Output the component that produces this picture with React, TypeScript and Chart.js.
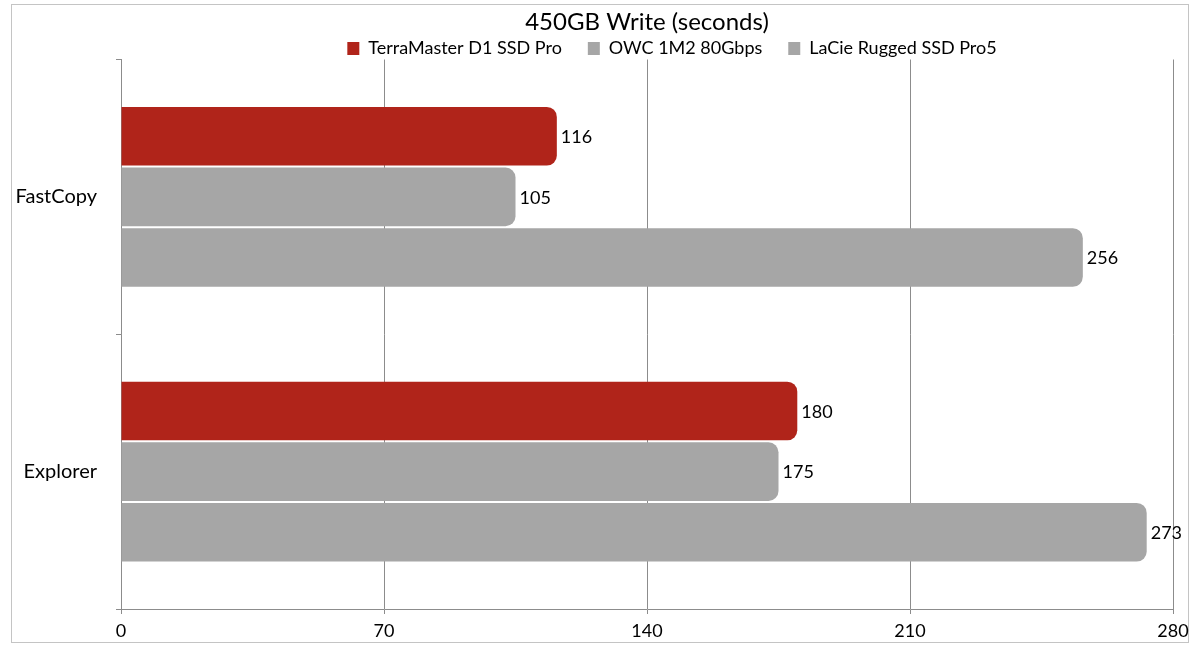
import React, { useEffect, useRef } from "react";
import { Chart, registerables } from "chart.js";

Chart.register(...registerables);

const categories = ["FastCopy", "Explorer"];
const seriesNames = ["TerraMaster D1 SSD Pro", "OWC 1M2 80Gbps", "LaCie Rugged SSD Pro5"];
const terraMaster = [116, 180];
const owc = [105, 175];
const lacie = [256, 273];
const seriesColors = ["#B0241A", "#A6A6A6", "#A6A6A6"];
const titleText = "450GB Write (seconds)";
const xMin = 0;
const xMax = 280;
const xStep = 70;

const FONT = "Lato, 'Open Sans', sans-serif";

const framePlugin = {
  id: "frame",
  beforeDraw(chart: any) {
    const ctx = chart.ctx;
    ctx.save();
    ctx.fillStyle = "#ffffff";
    ctx.fillRect(0, 0, chart.width, chart.height);
    ctx.strokeStyle = "#c4c4c4";
    ctx.lineWidth = 1;
    ctx.strokeRect(11.5, 4.5, 1177, 638);
    ctx.restore();
  },
};

const legendShiftPlugin = {
  id: "legendShift",
  afterLayout(chart: any) {
    const lg = chart.legend;
    if (lg) {
      lg.left += 25;
      lg.right += 25;
    }
  },
};

const valueLabelPlugin = {
  id: "valueLabels",
  afterDatasetsDraw(chart: any) {
    const ctx = chart.ctx;
    ctx.save();
    ctx.font = `18px ${FONT}`;
    ctx.fillStyle = "#000";
    ctx.textAlign = "left";
    ctx.textBaseline = "middle";
    chart.data.datasets.forEach((ds: any, i: number) => {
      const meta = chart.getDatasetMeta(i);
      meta.data.forEach((el: any, j: number) => {
        ctx.fillText(String(ds.data[j]), el.x + 4, el.y + 1);
      });
    });
    ctx.restore();
  },
};

export default function App() {
  const ref = useRef<HTMLCanvasElement | null>(null);

  useEffect(() => {
    if (!ref.current) return;
    const values = [terraMaster, owc, lacie];
    const chart = new Chart(ref.current, {
      type: "bar",
      data: {
        labels: categories,
        datasets: seriesNames.map((name, i) => ({
          label: name,
          data: values[i],
          backgroundColor: seriesColors[i],
          borderWidth: 0,
          borderRadius: 10,
          borderSkipped: "start",
          categoryPercentage: 0.662,
          barPercentage: 0.967,
        })),
      },
      options: {
        indexAxis: "y",
        responsive: false,
        animation: false,
        devicePixelRatio: 1,
        layout: { padding: { left: 0, right: 27, top: 0, bottom: 0 } },
        plugins: {
          title: {
            display: true,
            text: titleText,
            fullSize: false,
            color: "#000",
            font: { family: FONT, size: 24, weight: "normal", lineHeight: 1.2 },
            padding: { top: 8, bottom: -23.3 },
          },
          legend: {
            display: true,
            position: "top",
            fullSize: false,
            maxHeight: 46,
            labels: {
              color: "#000",
              font: { family: FONT, size: 18 },
              boxWidth: 12,
              boxHeight: 13,
              padding: 26,
            },
          },
          tooltip: { enabled: false },
        },
        scales: {
          x: {
            type: "linear",
            min: xMin,
            max: xMax,
            ticks: {
              stepSize: xStep,
              color: "#000",
              font: { family: FONT, size: 18 },
              padding: 6,
            },
            grid: { color: "#8c8c8c", lineWidth: 1, tickLength: 5, drawTicks: true },
            border: { color: "#8c8c8c" },
            afterFit: (s: any) => {
              s.height = 45;
            },
          },
          y: {
            type: "category",
            ticks: {
              color: "#000",
              font: { family: FONT, size: 20 },
              padding: 19,
            },
            grid: { offset: true, drawOnChartArea: false, color: "#8c8c8c", tickLength: 5 },
            border: { color: "#8c8c8c" },
            afterFit: (s: any) => {
              s.width = 121;
            },
          },
        },
      } as any,
      plugins: [framePlugin, legendShiftPlugin, valueLabelPlugin],
    });
    return () => chart.destroy();
  }, []);

  return (
    <div style={{ width: 1200, height: 654 }}>
      <style>{`body{margin:0}`}</style>
      <canvas ref={ref} width={1200} height={654} style={{ display: "block" }} />
    </div>
  );
}
